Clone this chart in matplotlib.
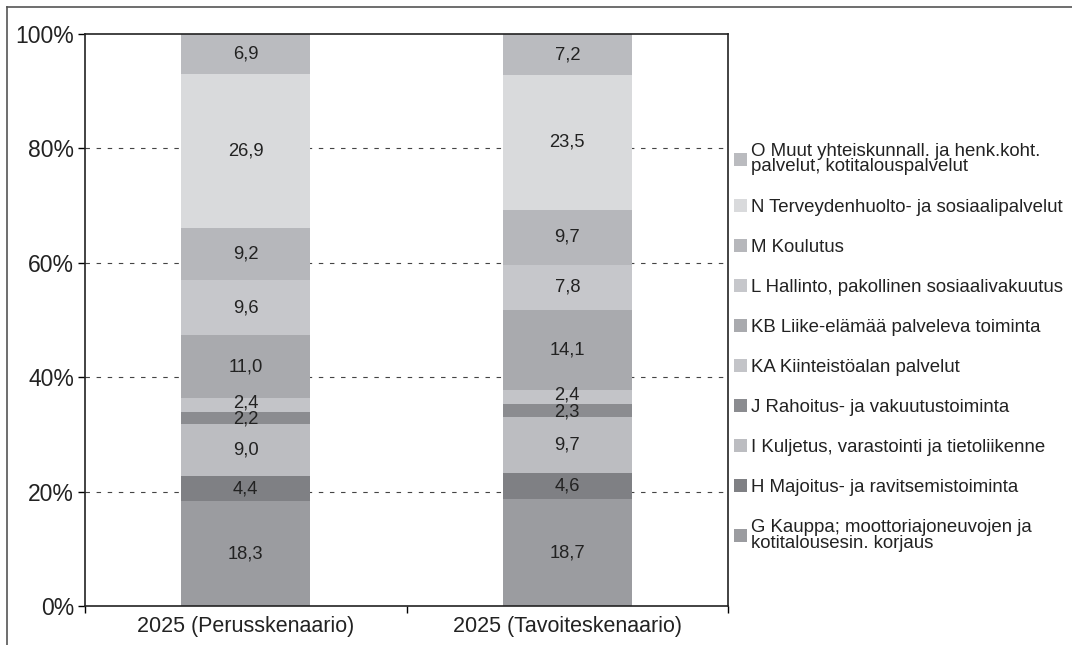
import matplotlib
matplotlib.use("Agg")
import matplotlib.pyplot as plt
from matplotlib.patches import Patch
from matplotlib.lines import Line2D
import numpy as np

plt.rcParams['font.family'] = ['Liberation Sans', 'DejaVu Sans']

categories = ["2025 (Perusskenaario)", "2025 (Tavoiteskenaario)"]
series_names = [
    "G Kauppa; moottoriajoneuvojen ja\nkotitalousesin. korjaus",
    "H Majoitus- ja ravitsemistoiminta",
    "I Kuljetus, varastointi ja tietoliikenne",
    "J Rahoitus- ja vakuutustoiminta",
    "KA Kiinteistöalan palvelut",
    "KB Liike-elämää palveleva toiminta",
    "L Hallinto, pakollinen sosiaalivakuutus",
    "M Koulutus",
    "N Terveydenhuolto- ja sosiaalipalvelut",
    "O Muut yhteiskunnall. ja henk.koht.\npalvelut, kotitalouspalvelut",
]
perus = [18.3, 4.4, 9.0, 2.2, 2.4, 11.0, 9.6, 9.2, 26.9, 6.9]
tavoite = [18.7, 4.6, 9.7, 2.3, 2.4, 14.1, 7.8, 9.7, 23.5, 7.2]
colors = ["#9b9ca0", "#7f8084", "#bcbdc1", "#8b8c90", "#c3c4c8",
          "#a9aaae", "#c6c7cb", "#b6b7bb", "#d9dadc", "#babbbf"]
yticks = [0, 20, 40, 60, 80, 100]
ytick_labels = ["0%", "20%", "40%", "60%", "80%", "100%"]

fig = plt.figure(figsize=(10.72, 6.45), dpi=100)
ax = fig.add_axes([85/1072, 1-606/645, (728-85)/1072, (606-34)/645])

data = np.array([perus, tavoite])
totals = data.sum(axis=1, keepdims=True)
pct = data / totals * 100
x = np.arange(len(categories))
bottom = np.zeros(len(categories))
for i, name in enumerate(series_names):
    ax.bar(x, pct[:, i], 0.40, bottom=bottom, color=colors[i], zorder=2,
           linewidth=0)
    for j in range(len(categories)):
        val = data[j, i]
        yc = bottom[j] + pct[j, i] / 2
        if series_names[i].startswith("KA"):
            yc += 0.4
        elif series_names[i].startswith("J"):
            yc -= 0.2
        ax.text(x[j], yc, f"{val:.1f}".replace(".", ","), ha="center",
                va="center", fontsize=13.2, color="#222222", zorder=3)
    bottom += pct[:, i]

ax.set_xlim(-0.5, 1.5)
ax.set_ylim(0, 100)
ax.set_yticks(yticks)
ax.set_yticklabels(ytick_labels, fontsize=16.5, color="#222222")
ax.set_xticks([-0.5, 0.5, 1.5], minor=False)
ax.set_xticklabels(["", "", ""])
ax.set_xticks(x, minor=True)
ax.set_xticklabels(categories, minor=True, fontsize=15.5, color="#222222")
ax.tick_params(axis="x", which="minor", length=0, pad=7)
ax.tick_params(axis="x", which="major", length=5, direction="out", width=1)
ax.tick_params(axis="y", length=5, direction="out", width=1, pad=3)
for g in yticks[1:-1]:
    ax.axhline(g, color="#444444", linewidth=0.8, linestyle=(0, (4, 6)), zorder=1)
for s in ax.spines.values():
    s.set_color("#222222")
    s.set_linewidth(1.2)

handles = [Patch(facecolor=colors[i], edgecolor="none") for i in range(len(series_names))][::-1]
labels = series_names[::-1]
leg = fig.legend(handles, labels, loc="upper left",
                 bbox_to_anchor=(730/1072, 1-139/645), frameon=False,
                 fontsize=13.4, handlelength=0.7, handleheight=0.7,
                 handletextpad=0.25, labelspacing=1.24, borderaxespad=0,
                 borderpad=0.2)
for t in leg.get_texts():
    t.set_color("#222222")
    t.set_linespacing(0.9)

# figure frame (left and top edges visible)
fig.add_artist(Line2D([7/1072, 7/1072], [0, 1-7/645], transform=fig.transFigure,
                      color="#555555", linewidth=1.2))
fig.add_artist(Line2D([7/1072, 1], [1-7/645, 1-7/645], transform=fig.transFigure,
                      color="#555555", linewidth=1.2))

fig.savefig("out.png", dpi=100)
